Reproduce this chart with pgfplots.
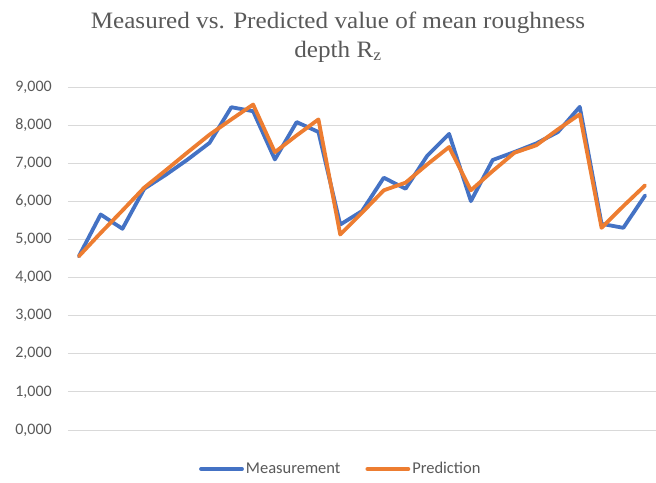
\documentclass[border=0pt]{standalone}
\usepackage{fontspec}
\setmainfont{Carlito}
\newfontfamily\titlefont{Liberation Serif}
\usepackage{pgfplots}
\pgfplotsset{compat=1.18}
\definecolor{mblue}{HTML}{4472C4}
\definecolor{morange}{HTML}{ED7D31}
\definecolor{gridgray}{HTML}{D9D9D9}
\definecolor{txtgray}{HTML}{595959}
\begin{document}
\begin{tikzpicture}[x=1pt,y=1pt]
\useasboundingbox (0,0) rectangle (656,-482);
\begin{axis}[
  at={(68pt,-430pt)}, anchor=south west,
  scale only axis, width=588pt, height=343pt,
  xmin=-0.5, xmax=26.5, ymin=0, ymax=9,
  xtick=\empty,
  ytick={0,1,...,9},
  ymajorgrids, grid style={gridgray, line width=1pt},
  axis line style={draw=none},
  major tick length=0pt,
  ytick style={draw=none},
  /pgf/number format/.cd, fixed, fixed zerofill, precision=3, use comma, 1000 sep={}, assume math mode=true,
  /pgfplots/.cd,
  yticklabel style={font=\fontsize{16}{18}\selectfont, text=txtgray, inner sep=0pt, xshift=-16pt},
  legend style={draw=none, at={(rel axis cs:0.464,-0.1137)}, anchor=center,
    font=\fontsize{16.5}{18}\selectfont, text=txtgray, legend columns=2,
    /tikz/every even column/.append style={column sep=23pt},
    inner sep=0pt},
  legend cell align=left,
  legend image code/.code={\draw[#1, line width=3.8pt] (0pt,0pt) -- (41pt,0pt);},
]
\addplot[mblue, line width=3.8pt, line join=round, line cap=round] coordinates {
(0,4.56) (1,5.655) (2,5.28) (3,6.33) (4,6.70) (5,7.10) (6,7.535) (7,8.47) (8,8.365)
(9,7.10) (10,8.08) (11,7.82) (12,5.39) (13,5.745) (14,6.62) (15,6.33) (16,7.20)
(17,7.77) (18,6.005) (19,7.085) (20,7.295) (21,7.52) (22,7.82) (23,8.48) (24,5.41)
(25,5.305) (26,6.155)};
\addlegendentry{Measurement}
\addplot[morange, line width=3.8pt, line join=round, line cap=round] coordinates {
(0,4.56) (1,5.17) (2,5.76) (3,6.36) (4,6.82) (5,7.29) (6,7.75) (7,8.15) (8,8.54)
(9,7.29) (10,7.73) (11,8.15) (12,5.13) (13,5.70) (14,6.29) (15,6.49) (16,6.97)
(17,7.425) (18,6.29) (19,6.795) (20,7.275) (21,7.47) (22,7.89) (23,8.285) (24,5.305)
(25,5.875) (26,6.42)};
\addlegendentry{Prediction}
\end{axis}
\node[anchor=base, text=txtgray, font=\titlefont\fontsize{23.5}{28}\selectfont, inner sep=0pt, xscale=1.07] at (338,-28.5) {Measured vs. Predicted value of mean roughness};
\node[anchor=base, text=txtgray, font=\titlefont\fontsize{23.5}{28}\selectfont, inner sep=0pt, xscale=1.07] at (338,-57) {depth R\textsubscript{z}};
\end{tikzpicture}
\end{document}
